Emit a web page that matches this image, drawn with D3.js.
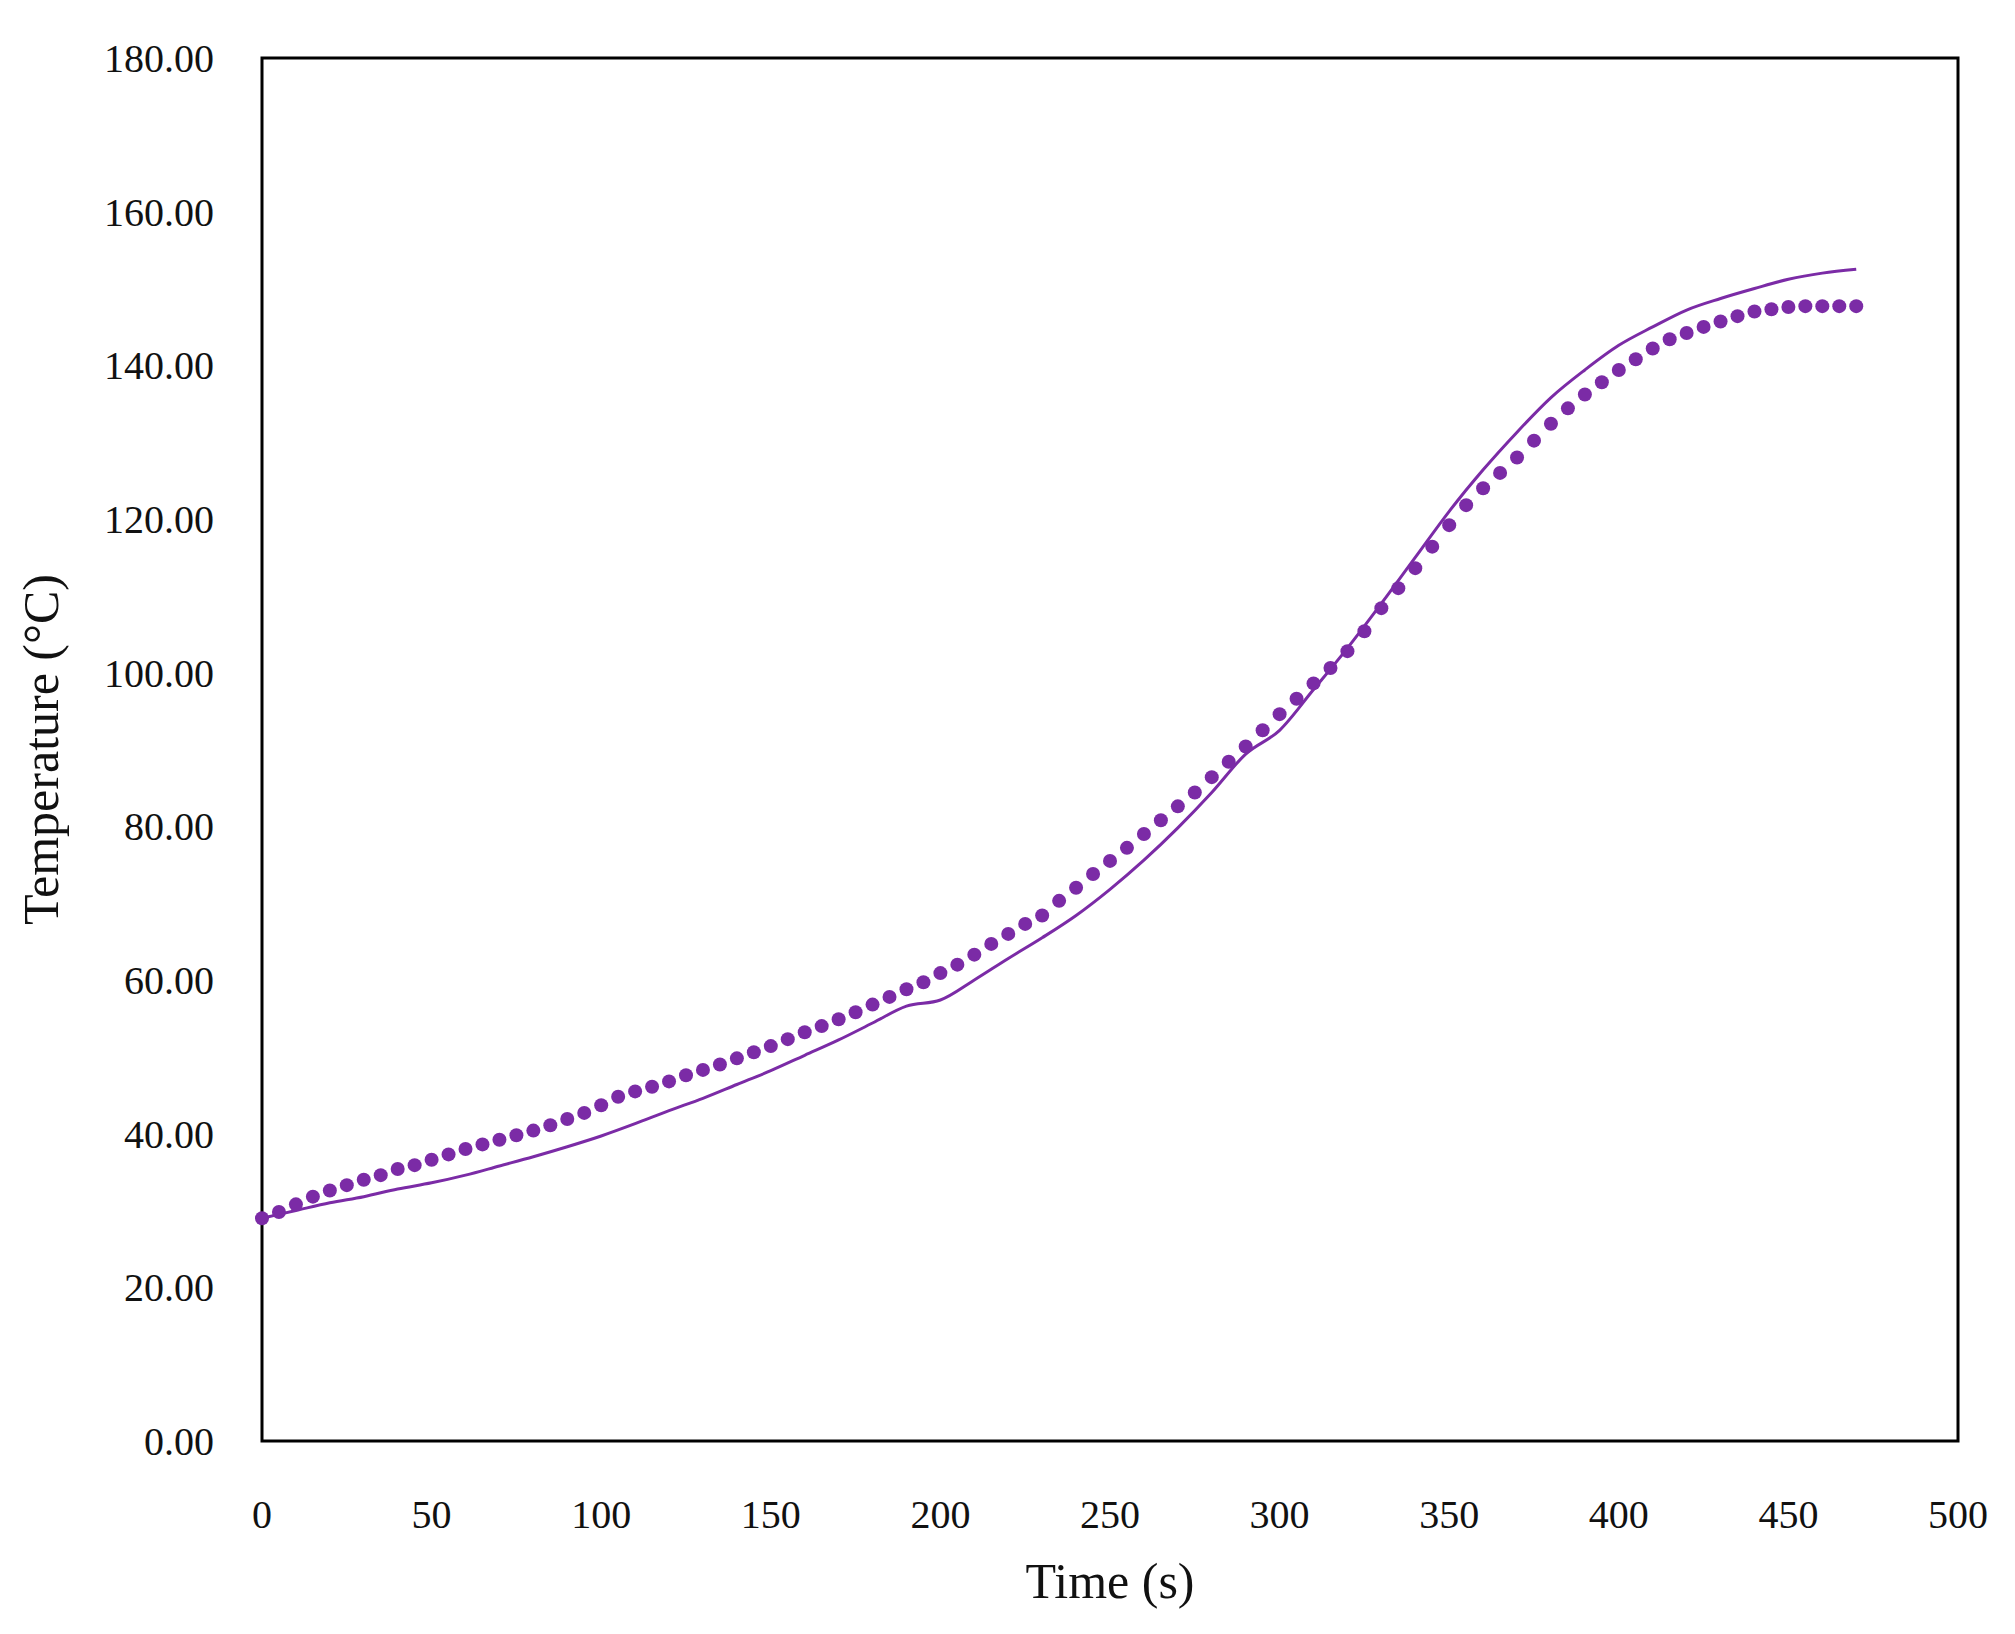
<!DOCTYPE html>
<html>
<head>
<meta charset="utf-8">
<script src="https://cdn.jsdelivr.net/npm/d3@7"></script>
<style>
  body { margin: 0; background: #fff; }
  text { font-family: "Liberation Serif", "DejaVu Serif", serif; fill: #111; }
</style>
</head>
<body>
<svg id="chart" width="2015" height="1634"></svg>
<script>
// Dotted series: every 5 s
const dotTimes = d3.range(0, 471, 5);
const dotTemps = [
  29.0, 29.8, 30.8, 31.8, 32.6, 33.3, 34.0, 34.6, 35.4, 35.9,
  36.6, 37.3, 38.0, 38.6, 39.2, 39.8, 40.4, 41.1, 41.9, 42.7,
  43.7, 44.8, 45.5, 46.1, 46.8, 47.6, 48.3, 49.0, 49.8, 50.6,
  51.4, 52.3, 53.2, 54.0, 54.9, 55.8, 56.8, 57.8, 58.8, 59.7,
  60.9, 62.0, 63.3, 64.7, 66.0, 67.3, 68.4, 70.3, 72.0, 73.8,
  75.5, 77.2, 79.0, 80.8, 82.6, 84.4, 86.4, 88.4, 90.4, 92.5,
  94.6, 96.6, 98.6, 100.6, 102.8, 105.4, 108.4, 111.0, 113.6, 116.4,
  119.2, 121.8, 124.0, 126.0, 128.0, 130.2, 132.4, 134.4, 136.2, 137.8,
  139.4, 140.8, 142.2, 143.4, 144.2, 145.0, 145.7, 146.4, 147.0, 147.3,
  147.6, 147.7, 147.7, 147.7, 147.7
];

// Solid series: every 10 s
const lineTimes = d3.range(0, 471, 10);
const lineTemps = [
  29.0, 30.0, 31.0, 31.8, 32.8, 33.6, 34.6, 35.8, 37.0, 38.3,
  39.7, 41.3, 43.0, 44.6, 46.4, 48.2, 50.2, 52.2, 54.4, 56.6,
  57.4, 60.0, 62.8, 65.5, 68.4, 71.8, 75.6, 79.8, 84.4, 89.4,
  92.5, 97.8, 103.2, 109.0, 115.0, 121.0, 126.4, 131.3, 135.8, 139.4,
  142.6, 145.0, 147.2, 148.7, 150.0, 151.2, 152.0, 152.5
];

const xTicks = d3.range(0, 501, 50);
const yTicks = d3.range(0, 181, 20);

const svg = d3.select("#chart");
const margin = { left: 262, right: 2015 - 1958, top: 58, bottom: 1634 - 1441 };
const x = d3.scaleLinear().domain([0, 500]).range([margin.left, 1958]);
const y = d3.scaleLinear().domain([0, 180]).range([1441, margin.top]);
const purple = "#7B2BA6";

// plot frame
svg.append("rect")
  .attr("x", x(0)).attr("y", y(180))
  .attr("width", x(500) - x(0)).attr("height", y(0) - y(180))
  .attr("fill", "none").attr("stroke", "#000").attr("stroke-width", 3);

// tick labels
svg.selectAll(".ylab").data(yTicks).join("text")
  .attr("x", 214).attr("y", d => y(d))
  .attr("dy", "0.35em").attr("text-anchor", "end")
  .attr("font-size", 40).text(d => d.toFixed(2));

svg.selectAll(".xlab").data(xTicks).join("text")
  .attr("x", d => x(d)).attr("y", 1514)
  .attr("dy", "0.35em").attr("text-anchor", "middle")
  .attr("font-size", 40).text(d => d);

// axis titles
svg.append("text")
  .attr("x", x(250)).attr("y", 1598)
  .attr("text-anchor", "middle").attr("font-size", 50)
  .text("Time (s)");

svg.append("text")
  .attr("transform", `translate(58, ${(y(0) + y(180)) / 2}) rotate(-90)`)
  .attr("text-anchor", "middle").attr("font-size", 50)
  .text("Temperature (°C)");

// solid line
const lineData = lineTimes.map((t, i) => ({ t, v: lineTemps[i] }));
svg.append("path")
  .datum(lineData)
  .attr("fill", "none").attr("stroke", purple).attr("stroke-width", 3)
  .attr("d", d3.line().x(d => x(d.t)).y(d => y(d.v)).curve(d3.curveMonotoneX));

// dots
const dotData = dotTimes.map((t, i) => ({ t, v: dotTemps[i] }));
svg.selectAll(".dot").data(dotData).join("circle")
  .attr("cx", d => x(d.t)).attr("cy", d => y(d.v))
  .attr("r", 7).attr("fill", purple);
</script>
</body>
</html>
